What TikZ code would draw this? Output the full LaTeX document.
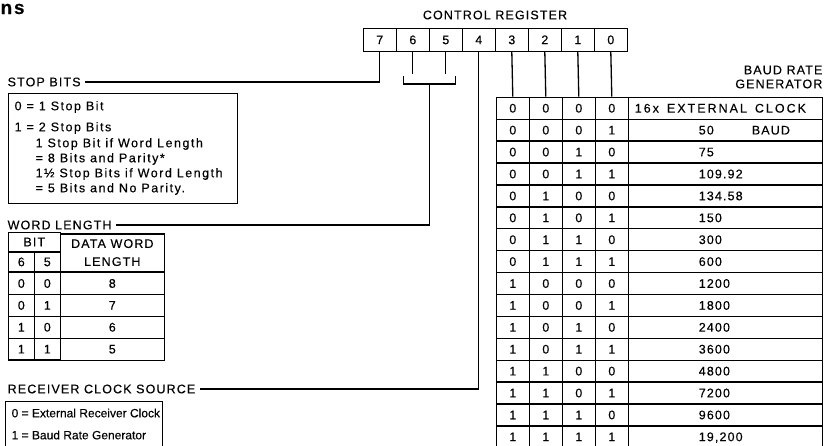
\documentclass[tikz,border=0pt]{standalone}
\usepackage{fontspec}
\setmainfont{Liberation Sans}[LetterSpace=9, FakeBold=0.3]
\usetikzlibrary{positioning, matrix, calc}
\tikzstyle{lbl}=[inner sep=1pt, anchor=west]
\tikzstyle{txt}=[inner sep=0pt, anchor=west]
\tikzstyle{cellbox}=[draw, inner sep=0pt]

\begin{document}
\begin{tikzpicture}[x=1pt, y=-1pt, line width=1.3pt,
                    font=\fontsize{12.5}{15}\selectfont]
  \useasboundingbox (0,0) rectangle (829,445);
  % cut-off heading
  \node[font=\fontsize{19}{19}\selectfont\bfseries, anchor=base west, inner sep=0pt]
    (head) at (0,14) {ns};
  % control register
  \node (regttl) at (495,15) {CONTROL REGISTER};
  \matrix[matrix of nodes, nodes={cellbox, minimum width=33pt, minimum height=23pt},
          column sep=-\pgflinewidth, inner sep=0pt, anchor=north west] (reg) at (362,27) {
    7 & 6 & 5 & 4 & 3 & 2 & 1 & 0 \\
  };
  % baud rate table
  \node[anchor=east, align=right, inner sep=0pt] (baudttl) at (823,77) {BAUD RATE\\[-1pt]GENERATOR};
  \matrix[matrix of nodes, nodes={cellbox, minimum width=33pt, minimum height=21.9pt},
          column sep=-\pgflinewidth, row sep=-\pgflinewidth, inner sep=0pt,
          column 5/.style={nodes={text width=181pt, inner xsep=6.5pt, align=left}},
          anchor=north west] (baud) at (495,96) {
    0 & 0 & 0 & 0 & {\addfontfeature{LetterSpace=16}16x\hspace{8pt}EXTERNAL\hspace{8pt}CLOCK} \\
    0 & 0 & 0 & 1 & \hspace*{64pt}50\hspace{38pt}BAUD \\
    0 & 0 & 1 & 0 & \hspace*{64pt}75 \\
    0 & 0 & 1 & 1 & \hspace*{64pt}109.92 \\
    0 & 1 & 0 & 0 & \hspace*{64pt}134.58 \\
    0 & 1 & 0 & 1 & \hspace*{64pt}150 \\
    0 & 1 & 1 & 0 & \hspace*{64pt}300 \\
    0 & 1 & 1 & 1 & \hspace*{64pt}600 \\
    1 & 0 & 0 & 0 & \hspace*{64pt}1200 \\
    1 & 0 & 0 & 1 & \hspace*{64pt}1800 \\
    1 & 0 & 1 & 0 & \hspace*{64pt}2400 \\
    1 & 0 & 1 & 1 & \hspace*{64pt}3600 \\
    1 & 1 & 0 & 0 & \hspace*{64pt}4800 \\
    1 & 1 & 0 & 1 & \hspace*{64pt}7200 \\
    1 & 1 & 1 & 0 & \hspace*{64pt}9600 \\
    1 & 1 & 1 & 1 & \hspace*{64pt}19,200 \\
  };
  \foreach \c/\d in {5/1, 6/2, 7/3, 8/4}
    \draw (reg-1-\c.south) -- (baud-1-\d.north);

  % stop bits
  \node[lbl] (stoplbl) at (6,82) {STOP BITS};
  \draw (reg-1-1.south) |- ([xshift=3pt]stoplbl.east);
  \node[cellbox, minimum width=229pt, minimum height=110pt, anchor=north west] (stopbox) at (8,93) {};
  \begin{scope}[font=\fontsize{12.5}{15}\selectfont\addfontfeature{LetterSpace=12}]
    \node[txt] (stop0) at (14,107) {0 = 1 Stop Bit};
    \node[txt] (stop1) at (14,128) {1 = 2 Stop Bits};
    \node[txt] (stop2) at (35,144) {1 Stop Bit if Word Length};
    \node[txt] (stop3) at (35,159) {= 8 Bits and Parity*};
    \node[txt] (stop4) at (35,174) {1\textonehalf\ Stop Bits if Word Length};
    \node[txt] (stop5) at (35,189) {= 5 Bits and No Parity.};
  \end{scope}

  % word length
  \draw (reg-1-2.south) -- ++(0,22);
  \draw (reg-1-3.south) -- ++(0,22);
  \coordinate (brk) at ($(reg-1-2.south)!0.5!(reg-1-3.south)+(0,32)$);
  \draw ($(brk)+(-26,-8)$) -- ++(0,8) -- ++(52,0) -- ++(0,-8);
  \node[lbl] (wordlbl) at (6,225) {WORD LENGTH};
  \draw (brk) |- ([xshift=3pt]wordlbl.east);
  \matrix[matrix of nodes, nodes={cellbox, minimum width=26pt, minimum height=21.9pt},
          column sep=-\pgflinewidth, row sep=-\pgflinewidth, inner sep=0pt,
          column 3/.style={nodes={minimum width=104pt}},
          anchor=north west] (wl) at (7,271.2) {
    0 & 0 & 8 \\
    0 & 1 & 7 \\
    1 & 0 & 6 \\
    1 & 1 & 5 \\
  };
  \node[cellbox, minimum width=26pt, minimum height=18.6pt, anchor=south] (wb6) at (wl-1-1.north) {6};
  \node[cellbox, minimum width=26pt, minimum height=18.6pt, anchor=south] (wb5) at (wl-1-2.north) {5};
  \node[cellbox, minimum width=52pt, minimum height=18.6pt, anchor=south west] (wbit) at (wb6.north west) {BIT};
  \node[cellbox, minimum width=104pt, minimum height=37.2pt, align=center, anchor=south]
    (wdata) at (wl-1-3.north) {DATA WORD\\[3pt]LENGTH};

  % receiver clock
  \node[lbl] (rxlbl) at (6,389) {RECEIVER CLOCK SOURCE};
  \draw (reg-1-4.south) |- ([xshift=3pt]rxlbl.east);
  \node[cellbox, minimum width=157pt, minimum height=60pt, anchor=north west] (rxbox) at (5,401) {};
  \begin{scope}[font=\fontsize{12}{14}\selectfont\addfontfeature{LetterSpace=0}]
    \node[txt] (rx0) at (11,413) {0 = External Receiver Clock};
    \node[txt] (rx1) at (11,435) {1 = Baud Rate Generator};
  \end{scope}
\end{tikzpicture}
\end{document}
